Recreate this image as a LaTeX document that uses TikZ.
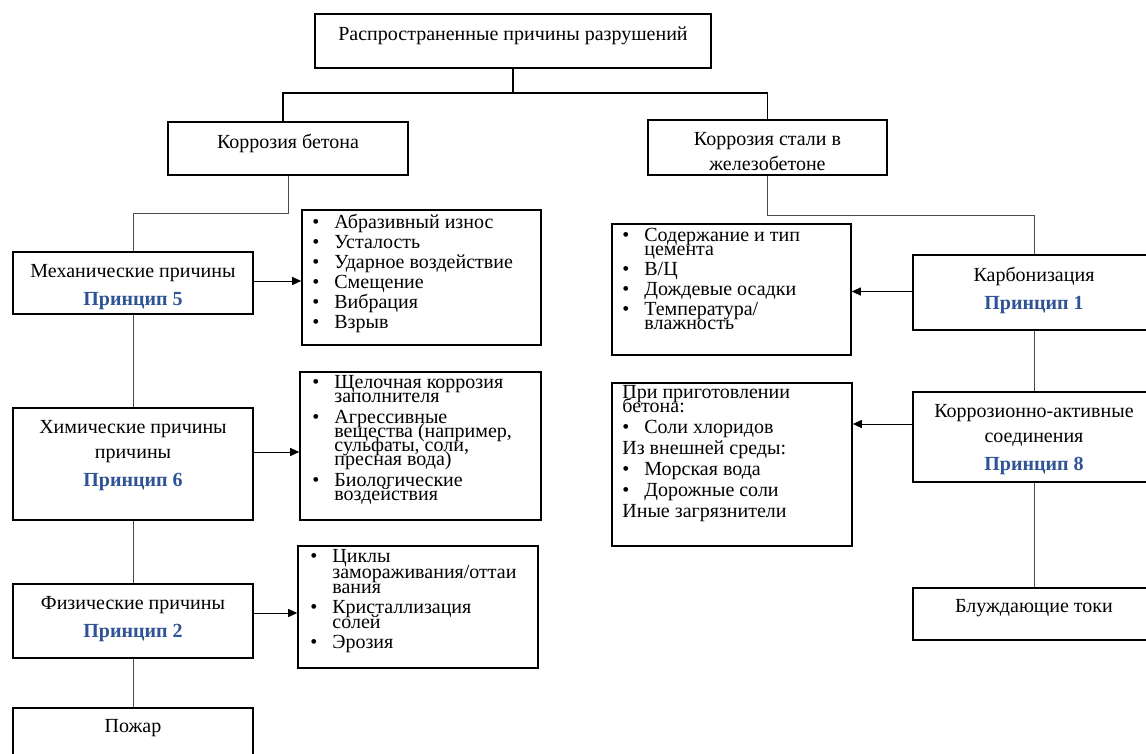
\documentclass[tikz,border=0pt]{standalone}
\usepackage{fontspec}
\setmainfont{Liberation Serif}
\usepackage{tikz}
\usetikzlibrary{calc,positioning,arrows,arrows.meta}
\definecolor{prblue}{RGB}{47,84,150}
\newcommand{\tightlines}{\lineskiplimit=-100pt\relax\lineskip=0pt\relax}
\tikzset{
  box/.style={draw,line width=1.6pt,inner sep=0pt},
  btext/.style={align=center,inner sep=0pt,font=\fontsize{20}{25}\selectfont},
  ltext/.style={align=left,inner sep=0pt,font=\fontsize{20}{14}\selectfont\tightlines},
  trunk/.style={line width=1.6pt},
  link/.style={draw=black!70,line width=0.9pt},
  arr/.style={-{Triangle[length=9pt,width=8pt]},line width=1pt}
}
\newcommand{\pr}[1]{\textbf{\color{prblue}#1}}
\newcommand{\bul}{\makebox[22pt][l]{\textbullet}}
\newcommand{\ind}{\hspace*{22pt}}

\begin{document}
\begin{tikzpicture}[x=1pt,y=-1pt]
		\useasboundingbox (0,0) rectangle (1146,754);
		% top level
		\node(top) [box,minimum width=396,minimum height=54] at (513,41) {};
		\node [btext,below=13pt of top.north] {Распространенные причины разрушений};
		\node(kb) [box,minimum width=240,minimum height=53] at (288,148.5) {};
		\node [btext,below=13pt of kb.north] {Коррозия бетона};
		\node(ks) [box,minimum width=239,minimum height=55] at (767.5,147.5) {};
		\node [btext,below=13pt of ks.north] {Коррозия стали в\\железобетоне};
		\coordinate (j1) at (283,93);
		\coordinate (j2) at (767.5,93);
		\draw[trunk] (top.south) -- (top.south |- j1);
		\draw[trunk] (kb.north -| j1) |- (j2) -- (ks.north);
		% concrete branch
		\node(mech) [box,minimum width=240,minimum height=62] at (133,283) {};
		\node [btext,below=13pt of mech.north] {Механические причины\\[3pt]\pr{Принцип 5}};
		\node(chem) [box,minimum width=240,minimum height=112] at (133,464) {};
		\node [btext,below=13pt of chem.north] {Химические причины\\причины\\[3pt]\pr{Принцип 6}};
		\node(phys) [box,minimum width=240,minimum height=74] at (133,621) {};
		\node [btext,below=13pt of phys.north] {Физические причины\\[3pt]\pr{Принцип 2}};
		\node(fire) [box,minimum width=240,minimum height=62] at (133,739) {};
		\node [btext,below=12pt of fire.north] {Пожар};
		\coordinate (j3) at (133,213);
		\draw[link] (kb.south) |- (j3) -- (mech.north);
		\draw[link] (mech.south) -- (chem.north);
		\draw[link] (chem.south) -- (phys.north);
		\draw[link] (phys.south) -- (fire.north);
		\node(l1) [box,minimum width=239,minimum height=135] at (421.5,277.5) {};
		\node [ltext,below right=5pt and 11pt of l1.north west] {\bul Абразивный износ\\[6pt]\bul Усталость\\[6pt]\bul Ударное воздействие\\[6pt]\bul Смещение\\[6pt]\bul Вибрация\\[6pt]\bul Взрыв};
		\node(l2) [box,minimum width=241,minimum height=148] at (420.5,446) {};
		\node [ltext,below right=4pt and 13pt of l2.north west] {\bul Щелочная коррозия\\\ind заполнителя\\[7pt]\bul Агрессивные\\\ind вещества (например,\\\ind сульфаты, соли,\\\ind пресная вода)\\[7pt]\bul Биологические\\\ind воздействия};
		\node(l3) [box,minimum width=240,minimum height=122] at (418,607) {};
		\node [ltext,font=\fontsize{20}{15.5}\selectfont\tightlines,below right=4pt and 13pt of l3.north west] {\bul Циклы\\\ind замораживания/оттаи\\\ind вания\\[4pt]\bul Кристаллизация\\\ind солей\\[4pt]\bul Эрозия};
		\draw[arr] ([yshift=2pt]mech.east) -- ([yshift=2pt]mech.east -| l1.west);
		\draw[arr] ([yshift=12pt]chem.east) -- ([yshift=12pt]chem.east -| l2.west);
		\draw[arr] ([yshift=8pt]phys.east) -- ([yshift=8pt]phys.east -| l3.west);
		% steel branch
		\node(carb) [box,minimum width=242,minimum height=75] at (1034,292.5) {};
		\node [btext,below=13pt of carb.north] {Карбонизация\\[3pt]\pr{Принцип 1}};
		\node(corr) [box,minimum width=242,minimum height=90] at (1034,437) {};
		\node [btext,below=13pt of corr.north] {Коррозионно-активные\\соединения\\[3pt]\pr{Принцип 8}};
		\node(stray) [box,minimum width=242,minimum height=52] at (1034,614) {};
		\node [btext,below=12pt of stray.north] {Блуждающие токи};
		\coordinate (j4) at (1034,215);
		\draw[link] (ks.south) |- (j4) -- (carb.north);
		\draw[link] (carb.south) -- (corr.north);
		\draw[link] (corr.south) -- (stray.north);
		\node(l4) [box,minimum width=239,minimum height=131] at (731.5,289.5) {};
		\node [ltext,below right=5pt and 11pt of l4.north west] {\bul Содержание и тип\\\ind цемента\\[6pt]\bul В/Ц\\[6pt]\bul Дождевые осадки\\[6pt]\bul Температура/\\\ind влажность};
		\node(l5) [box,minimum width=240,minimum height=163] at (732,464.5) {};
		\node [ltext,below right=3pt and 11pt of l5.north west] {При приготовлении\\бетона:\\[7pt]\bul Соли хлоридов\\[7pt]Из внешней среды:\\[7pt]\bul Морская вода\\[7pt]\bul Дорожные соли\\[7pt]Иные загрязнители};
		\draw[arr] ([yshift=1pt]carb.west) -- ([yshift=1pt]carb.west -| l4.east);
		\draw[arr] ([yshift=13pt]corr.west) -- ([yshift=13pt]corr.west -| l5.east);
	\end{tikzpicture}
\end{document}
